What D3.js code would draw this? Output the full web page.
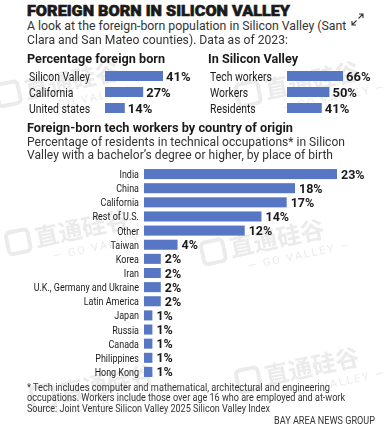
<!DOCTYPE html>
<html>
<head>
<meta charset="utf-8">
<script src="https://cdn.jsdelivr.net/npm/d3@7"></script>
<style>
  html, body { margin: 0; padding: 0; background: #fff; }
  svg { display: block; font-family: Roboto, "Liberation Sans", sans-serif; }
</style>
</head>
<body>
<div id="chart"></div>
<script>
// ---- data ----
const shareLabels = ["Silicon Valley", "California", "United states"];
const shareValues = [41, 27, 14];

const svLabels = ["Tech workers", "Workers", "Residents"];
const svValues = [66, 50, 41];

const origins = ["India", "China", "California", "Rest of U.S.", "Other", "Taiwan", "Korea", "Iran",
  "U.K., Germany and Ukraine", "Latin America", "Japan", "Russia", "Canada", "Philippines", "Hong Kong"];
const originValues = [23, 18, 17, 14, 12, 4, 2, 2, 2, 2, 1, 1, 1, 1, 1];

const BLUE = "#5776c4";
const INK = "#1a1a1a";

const W = 391, H = 429;
const svg = d3.select("#chart").append("svg").attr("width", W).attr("height", H);

// ---- faint watermarks ----
const marks = [[60, 92], [300, 92], [70, 240], [265, 250], [95, 395], [300, 378]];
const wm = svg.append("g").attr("fill", "#e6e6e6").attr("opacity", 0.8);
marks.forEach(([x, y]) => {
  const g = wm.append("g").attr("transform", `translate(${x},${y}) rotate(-12)`);
  g.append("rect").attr("x", -62).attr("y", -20).attr("width", 22).attr("height", 22).attr("rx", 4)
    .attr("fill", "none").attr("stroke", "#e6e6e6").attr("stroke-width", 4);
  g.append("text").attr("x", -34).attr("y", 0)
    .style("font-family", "'Noto Sans CJK SC'").style("font-size", "24px").style("font-weight", 700)
    .text("直通硅谷");
  g.append("text").attr("x", -20).attr("y", 16)
    .style("font-size", "11px").style("letter-spacing", "2px").text("— GO VALLEY —");
});

// squeeze a text horizontally, like the condensed face in the original
function condense(sel, f) {
  sel.each(function () {
    const len = this.getComputedTextLength();
    d3.select(this).attr("textLength", len * f).attr("lengthAdjust", "spacingAndGlyphs");
  });
  return sel;
}

// helper for text
function txt(x, y, s, size, weight, len, anchor) {
  const t = svg.append("text").attr("x", x).attr("y", y)
    .attr("fill", INK)
    .style("font-size", size + "px").style("font-weight", weight || 400)
    .attr("text-anchor", anchor || "start")
    .text(s);
  if (len) t.attr("textLength", len).attr("lengthAdjust", "spacingAndGlyphs");
  return t;
}

// ---- header ----
txt(27, 16, "FOREIGN BORN IN SILICON VALLEY", 15.5, 900, 263)
  .attr("stroke", INK).attr("stroke-width", 0.6);
svg.append("clipPath").attr("id", "sub1").append("rect").attr("x", 0).attr("y", 0).attr("width", 346).attr("height", 40);
txt(27, 30, "A look at the foreign-born population in Silicon Valley (Santa", 13, 400, 326)
  .attr("fill", "#333").attr("clip-path", "url(#sub1)");
txt(27, 44, "Clara and San Mateo counties). Data as of 2023:", 13, 400, 261).attr("fill", "#333");

// expand icon
const ic = svg.append("g").attr("stroke", "#333").attr("stroke-width", 1.1).attr("fill", "none");
ic.append("path").attr("d", "M352,25 L356.5,20.5 M352,21 L352,25 L356,25");
ic.append("path").attr("d", "M358.5,18.5 L363,14 M359,14 L363,14 L363,18");

// ---- small panels ----
txt(27, 63, "Percentage foreign born", 13, 700, 138);
txt(208, 63, "In Silicon Valley", 13, 700, 90);

function panel(labels, values, labelX, barX, maxW, maxV) {
  const y = d3.scaleBand().domain(labels).range([68, 116]).paddingInner(0.375).paddingOuter(0.1875);
  const x = d3.scaleLinear().domain([0, maxV]).range([0, maxW]);
  const g = svg.append("g");
  const rows = g.selectAll("g").data(labels).join("g");
  condense(rows.append("text").attr("x", labelX).attr("y", d => y(d) + y.bandwidth() / 2 + 4.5)
    .attr("fill", INK).style("font-size", "13px").text(d => d), 0.8);
  rows.append("rect").attr("x", barX).attr("y", d => y(d))
    .attr("width", (d, i) => x(values[i])).attr("height", y.bandwidth()).attr("fill", BLUE);
  rows.append("text").attr("x", (d, i) => barX + x(values[i]) + 3).attr("y", d => y(d) + y.bandwidth() / 2 + 4.5)
    .attr("fill", INK).style("font-size", "13px").style("font-weight", 700).text((d, i) => values[i] + "%");
}
panel(shareLabels, shareValues, 29, 105, 58, 41);
panel(svLabels, svValues, 210, 287, 56, 66);

// ---- main chart ----
txt(27, 132, "Foreign-born tech workers by country of origin", 13, 700, 266);
txt(27, 146, "Percentage of residents in technical occupations* in Silicon", 12.5, 400, 318).attr("fill", "#333");
txt(27, 159, "Valley with a bachelor\u2019s degree or higher, by place of birth", 12.5, 400, 306).attr("fill", "#333");

const x0 = 144;
const x = d3.scaleLinear().domain([0, 23]).range([0, 193]);
const y = d3.scaleBand().domain(origins).range([167, 379]).paddingInner(0.29).paddingOuter(0.145);

const rows = svg.append("g").selectAll("g").data(origins).join("g");
condense(rows.append("text").attr("x", x0 - 5).attr("y", d => y(d) + y.bandwidth() / 2 + 4)
  .attr("text-anchor", "end").attr("fill", INK)
  .style("font-size", "11.5px").text(d => d), 0.78);
rows.append("rect").attr("x", x0).attr("y", d => y(d))
  .attr("width", (d, i) => x(originValues[i])).attr("height", y.bandwidth()).attr("fill", BLUE);
rows.append("text").attr("x", (d, i) => x0 + x(originValues[i]) + 4).attr("y", d => y(d) + y.bandwidth() / 2 + 4.5)
  .attr("fill", INK).style("font-size", "12.5px").style("font-weight", 700).text((d, i) => originValues[i] + "%");

// ---- footnotes ----
txt(27, 391, "* Tech includes computer and mathematical, architectural and engineering", 10, 400, 303).attr("fill", "#333");
txt(27, 401, "occupations. Workers include those over age 16 who are employed and at-work", 10, 400, 318).attr("fill", "#333");
txt(27, 412, "Source: Joint Venture Silicon Valley 2025 Silicon Valley Index", 10, 400, 243).attr("fill", "#333");
txt(375, 424, "BAY AREA NEWS GROUP", 10, 400, 101, "end").attr("fill", "#333");
</script>
</body>
</html>
